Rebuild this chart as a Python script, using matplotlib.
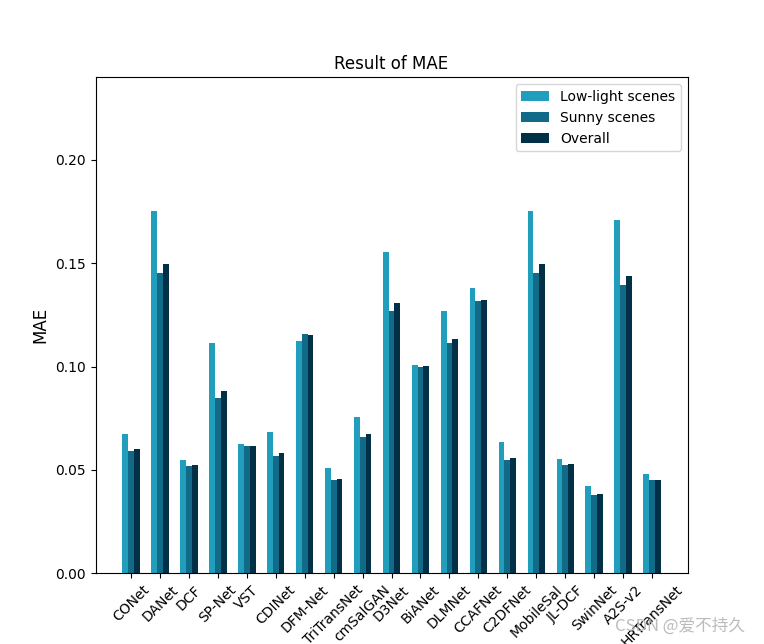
import numpy as np
import matplotlib
matplotlib.use("Agg")
import matplotlib.pyplot as plt

# models on the x axis
models = ["CONet", "DANet", "DCF", "SP-Net", "VST", "CDINet", "DFM-Net",
          "TriTransNet", "cmSalGAN", "D3Net", "BiANet", "DLMNet", "CCAFNet",
          "C2DFNet", "MobileSal", "JL-DCF", "SwinNet", "A2S-v2", "HRTransNet"]

# MAE values
low_light = [0.0673, 0.1753, 0.0547, 0.1114, 0.0625, 0.0683, 0.1123,
             0.0508, 0.0755, 0.1554, 0.1007, 0.1269, 0.1380,
             0.0634, 0.1753, 0.0552, 0.0421, 0.1709, 0.0479]
sunny = [0.0591, 0.1453, 0.0518, 0.0847, 0.0615, 0.0567, 0.1157,
         0.0450, 0.0659, 0.1269, 0.0998, 0.1114, 0.1317,
         0.0547, 0.1453, 0.0523, 0.0378, 0.1395, 0.0450]
overall = [0.0600, 0.1496, 0.0523, 0.0881, 0.0615, 0.0581, 0.1153,
           0.0455, 0.0673, 0.1307, 0.1002, 0.1133, 0.1322,
           0.0557, 0.1496, 0.0528, 0.0383, 0.1438, 0.0450]

x = np.arange(len(models))
width = 0.2

fig, ax = plt.subplots(figsize=(7.64, 6.44), dpi=100)
ax.bar(x - width, low_light, width, color="#219EBC", label="Low-light scenes")
ax.bar(x, sunny, width, color="#126A89", label="Sunny scenes")
ax.bar(x + width, overall, width, color="#023047", label="Overall")

ax.set_xticks(x)
ax.set_xticklabels(models, rotation=45)
ax.set_ylim(0, 0.24)
ax.set_yticks([0.0, 0.05, 0.10, 0.15, 0.20])
ax.set_ylabel("MAE", fontsize=12)
ax.set_title("Result of MAE")
ax.legend(loc="upper right")

# watermark
fig.text(0.975, 0.028, "CSDN @爱不持久", ha="right", va="center",
         fontsize=12, color="#b4b4b4", alpha=0.9,
         family=["Noto Sans CJK SC", "DejaVu Sans"])

fig.savefig("out.png", dpi=100)
